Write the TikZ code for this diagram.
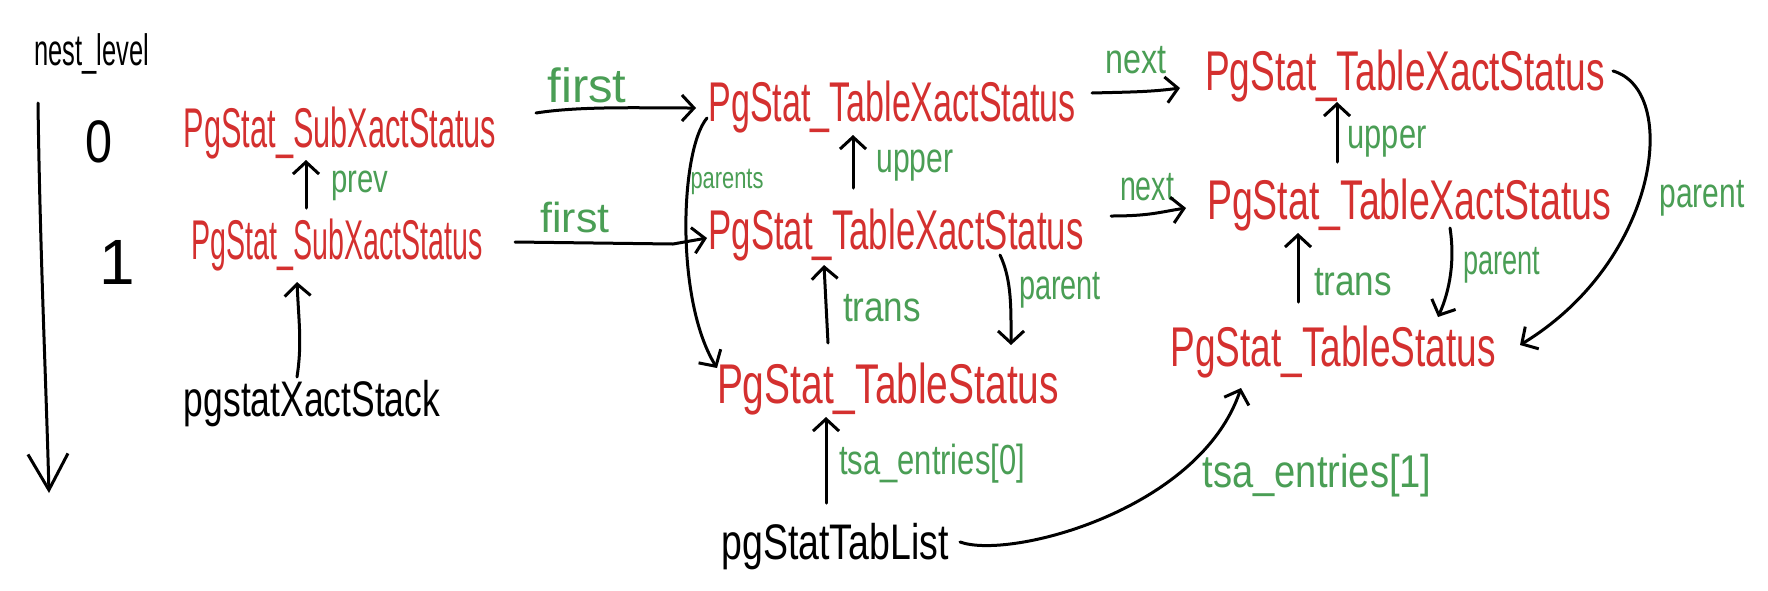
\documentclass[tikz,border=0pt]{standalone}
\usepackage{fontspec}
\setmainfont{Liberation Sans}
\usepackage{graphicx}
\usetikzlibrary{arrows.meta,calc}
\definecolor{hred}{HTML}{D4302F}
\definecolor{hgreen}{HTML}{4A9E55}
\newcommand\hw[2]{\resizebox{#1}{\height}{#2}}
\begin{document}
\begin{tikzpicture}[x=1pt,y=-1pt,
  rtext/.style={text=hred, font=\fontsize{56}{56}\selectfont, inner sep=0pt},
  gtext/.style={text=hgreen, font=\fontsize{42}{42}\selectfont, inner sep=0pt},
  btext/.style={text=black, font=\fontsize{50}{50}\selectfont, inner sep=0pt},
  link/.style={draw=black, line width=3pt, line cap=round, line join=round,
    -{Straight Barb[length=12pt,width=26pt,line width=3pt]}},
]
\useasboundingbox (0,0) rectangle (1768,590);
\fill[white] (0,0) rectangle (1768,590);

% left axis
\node[btext, font=\fontsize{44}{44}\selectfont] (nest) at (92,54) {\hw{115pt}{nest\_level}};
\coordinate (axtop) at (38,103);
\coordinate (axbot) at (49,493);
\draw[line width=3pt, line cap=round, -{Straight Barb[length=36pt,width=40pt,line width=3pt]}] (axtop) .. controls (40,250) and (46,380) .. (axbot);
\node[btext, font=\fontsize{60}{60}\selectfont] (l0) at (99,142) {\hw{27pt}{0}};
\node[btext, font=\fontsize{64}{64}\selectfont] (l1) at (117,262) {1};

% red structures
\node[rtext] (sx0) at (340,133) {\hw{312pt}{PgStat\_SubXactStatus}};
\node[rtext] (sx1) at (337,245) {\hw{291pt}{PgStat\_SubXactStatus}};
\node[rtext] (tx0m) at (892,107) {\hw{367pt}{PgStat\_TableXactStatus}};
\node[rtext] (tx1m) at (896,235) {\hw{375pt}{PgStat\_TableXactStatus}};
\node[rtext] (tx0r) at (1405,76) {\hw{400pt}{PgStat\_TableXactStatus}};
\node[rtext] (tx1r) at (1409,205) {\hw{404pt}{PgStat\_TableXactStatus}};
\node[rtext] (tsm) at (888,389) {\hw{342pt}{PgStat\_TableStatus}};
\node[rtext] (tsr) at (1333,352) {\hw{325pt}{PgStat\_TableStatus}};

% black roots
\node[btext] (stack) at (312,404) {\hw{256pt}{pgstatXactStack}};
\node[btext] (tablist) at (835,547) {\hw{227pt}{pgStatTabList}};

% green labels
\node[gtext, font=\fontsize{40}{40}\selectfont] (lprev) at (360,186) {\hw{57pt}{prev}};
\node[gtext, font=\fontsize{48}{48}\selectfont] (lfirst0) at (587,85) {\hw{79pt}{first}};
\node[gtext, font=\fontsize{42}{42}\selectfont] (lfirst1) at (575,217) {\hw{69pt}{first}};
\node[gtext] (lnext0) at (1136,60) {\hw{61pt}{next}};
\node[gtext] (lnext1) at (1147,187) {\hw{54pt}{next}};
\node[gtext] (lupperm) at (915,166) {\hw{77pt}{upper}};
\node[gtext] (lupperr) at (1387,142) {\hw{79pt}{upper}};
\node[gtext, font=\fontsize{30}{30}\selectfont] (lparents) at (727,182) {\hw{73pt}{parents}};
\node[gtext] (ltransm) at (882,308) {\hw{78pt}{trans}};
\node[gtext] (ltransr) at (1353,282) {\hw{78pt}{trans}};
\node[gtext] (lparentm) at (1060,290) {\hw{82pt}{parent}};
\node[gtext] (lparentr) at (1502,265) {\hw{77pt}{parent}};
\node[gtext] (lparentb) at (1702,198) {\hw{85pt}{parent}};
\node[gtext] (ltsa0) at (932,464) {\hw{186pt}{tsa\_entries[0]}};
\node[gtext, font=\fontsize{46}{46}\selectfont] (ltsa1) at (1317,476) {\hw{229pt}{tsa\_entries[1]}};

% connectors
\draw[link] ($(stack)+(-15,-27)$) .. controls ($(stack)+(-10,-60)$) and ($(sx1)+(-38,80)$) .. ($(sx1)+(-40,37)$);
\draw[link] ($(sx1)+(-31,-37)$) -- ($(sx0)+(-34,27)$);
\draw[link] ($(sx0)+(196,-20)$) .. controls (580,106) and (640,108) .. ($(tx0m)+(-196,1)$);
\draw[link] ($(sx1)+(178,-3)$) -- (673,244) -- ($(tx1m)+(-189,3)$);
\draw[link] ($(tx0m)+(200,-14)$) .. controls (1130,92) and (1150,92) .. ($(tx0r)+(-225,12)$);
\draw[link] ($(tx1m)+(215,-19)$) .. controls (1150,216) and (1160,212) .. ($(tx1r)+(-223,3)$);
\draw[link] ($(tx1m)+(-43,-47)$) -- ($(tx0m)+(-39,28)$);
\draw[link] ($(tx1r)+(-72,-43)$) -- ($(tx0r)+(-68,26)$);
\draw[link] ($(tsm)+(-60,-46)$) -- ($(tx1m)+(-72,30)$);
\draw[link] ($(tsr)+(-35,-50)$) -- ($(tx1r)+(-111,28)$);
\draw[link] ($(tx1m)+(104,20)$) .. controls (1012,280) and (1011,310) .. ($(tsm)+(123,-44)$);
\draw[link] ($(tx1r)+(41,23)$) .. controls (1455,260) and (1450,290) .. ($(tsr)+(105,-35)$);
\draw[link] ($(tx0r)+(208,-5)$) .. controls (1680,90) and (1660,260) .. ($(tsr)+(187,-7)$);
\draw[link] ($(tx0m)+(-185,11)$) .. controls (680,150) and (675,300) .. ($(tsm)+(-171,-21)$);
\draw[link] ($(tablist)+(-9,-44)$) -- ($(tsm)+(-62,28)$);
\draw[link] ($(tablist)+(125,-5)$) .. controls (1010,560) and (1200,510) .. ($(tsr)+(-92,36)$);
\end{tikzpicture}
\end{document}
